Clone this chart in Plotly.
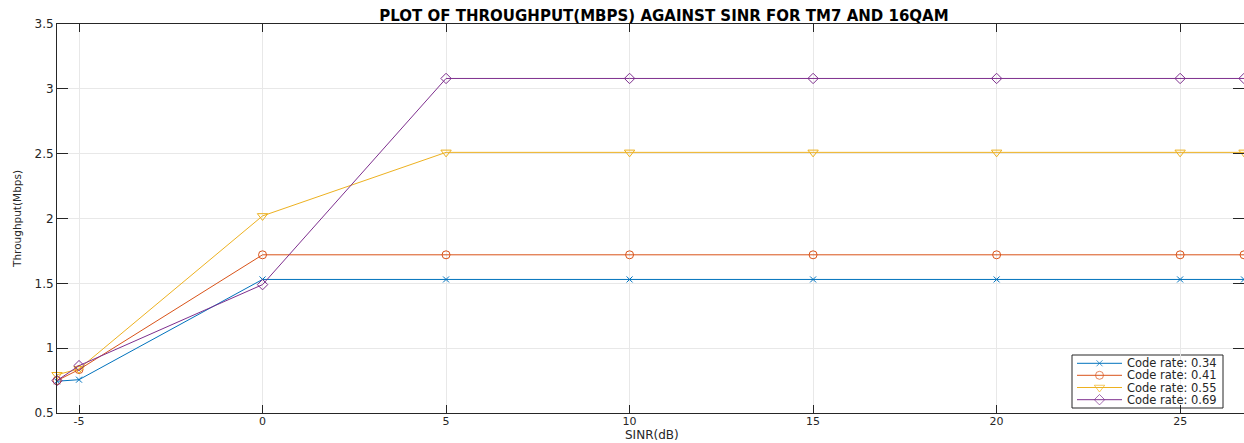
import plotly.graph_objects as go

sinr = [-5.6, -5, 0, 5, 10, 15, 20, 25, 26.74]
tp_034 = [0.745, 0.757, 1.53, 1.53, 1.53, 1.53, 1.53, 1.53, 1.53]
tp_041 = [0.75, 0.835, 1.72, 1.72, 1.72, 1.72, 1.72, 1.72, 1.72]
tp_055 = [0.795, 0.84, 2.02, 2.51, 2.51, 2.51, 2.51, 2.51, 2.51]
tp_069 = [0.75, 0.865, 1.49, 3.08, 3.08, 3.08, 3.08, 3.08, 3.08]
names = ["Code rate: 0.34", "Code rate: 0.41", "Code rate: 0.55", "Code rate: 0.69"]
colors = ["#0072BD", "#D95319", "#EDB120", "#7E2F8E"]
symbols = ["x-thin", "circle-open", "triangle-down-open", "diamond-open"]
sizes = [6, 8, 9, 8]
xticks = [-5, 0, 5, 10, 15, 20, 25]
xticklabels = ["-5", "0", "5", "10", "15", "20", "25"]
yticks = [0.5, 1, 1.5, 2, 2.5, 3, 3.5]
yticklabels = ["0.5", "1", "1.5", "2", "2.5", "3", "3.5"]

W, H = 1244, 443
L, R, T, B = 57, 0, 24, 30
PW, PH = W - L - R, H - T - B

def px_x(p):
    return (p - L) / PW

def px_y(p):
    return (H - B - p) / PH

font = "DejaVu Sans, Verdana, sans-serif"
fig = go.Figure()
for ys, nm, c, s, sz in zip([tp_034, tp_041, tp_055, tp_069], names, colors, symbols, sizes):
    fig.add_trace(go.Scatter(
        x=sinr, y=ys, name=nm, mode="lines+markers", showlegend=False,
        line=dict(color=c, width=1),
        marker=dict(symbol=s, size=sz, color=c, line=dict(color=c, width=1)),
        cliponaxis=False,
    ))

# manual legend (compact like the MATLAB legend)
leg_box = (px_x(1072), px_y(408), px_x(1223), px_y(355))
row_y = [px_y(363.3), px_y(375.3), px_y(387.5), px_y(399.7)]
fig.add_shape(type="rect", xref="paper", yref="paper",
              x0=leg_box[0], y0=leg_box[1], x1=leg_box[2], y1=leg_box[3],
              line=dict(color="#262626", width=1), fillcolor="white", layer="between")
for nm, c, s, sz, ry in zip(names, colors, symbols, sizes, row_y):
    fig.add_trace(go.Scatter(
        x=[px_x(1077), px_x(1099.5), px_x(1122)], y=[ry, ry, ry],
        xaxis="x2", yaxis="y2", mode="lines+markers", showlegend=False, hoverinfo="skip",
        line=dict(color=c, width=1),
        marker=dict(symbol=s, size=[0, sz, 0], color=c, line=dict(color=c, width=1)),
        cliponaxis=False,
    ))
    fig.add_annotation(x=px_x(1125), y=ry, xref="paper", yref="paper", text=nm,
                       showarrow=False, xanchor="left", yanchor="middle",
                       font=dict(family=font, size=11.5, color="#262626"))

axis_common = dict(
    showline=True, linecolor="#262626", linewidth=1, mirror="ticks",
    ticks="inside", tickcolor="#262626",
    showgrid=True, gridcolor="#e8e8e8", gridwidth=1, zeroline=False,
)
fig.update_xaxes(range=[-5.6, 26.74], tickvals=xticks, ticktext=xticklabels, ticklen=8,
                 ticklabelstandoff=-2,
                 tickfont=dict(family=font, size=11, color="#262626"), **axis_common)
fig.update_yaxes(range=[0.5, 3.5], tickvals=yticks, ticktext=yticklabels, ticklen=11,
                 tickfont=dict(family=font, size=12, color="#262626"), **axis_common,
                 title=dict(text="Throughput(Mbps)", font=dict(family=font, size=10.5, color="#262626"), standoff=10))

# x-axis title placed at the bottom edge like the reference
fig.add_annotation(x=(652 - L) / PW, y=px_y(443), xref="paper", yref="paper", text="SINR(dB)",
                   showarrow=False, xanchor="center", yanchor="bottom", borderpad=0,
                   font=dict(family=font, size=12, color="#262626"))

fig.update_layout(
    width=W, height=H,
    margin=dict(l=L, r=R, t=T, b=B),
    plot_bgcolor="white", paper_bgcolor="white",
    xaxis2=dict(overlaying="x", range=[0, 1], visible=False, fixedrange=True),
    yaxis2=dict(overlaying="y", range=[0, 1], visible=False, fixedrange=True),
    title=dict(text="<b>PLOT OF THROUGHPUT(MBPS) AGAINST SINR FOR TM7 AND 16QAM</b>",
               x=664 / W, xanchor="center", xref="container",
               y=1 - 15.5 / H, yanchor="middle", yref="container",
               font=dict(family=font, size=15, color="black")),
    showlegend=False,
)
fig.write_html("out.html")
